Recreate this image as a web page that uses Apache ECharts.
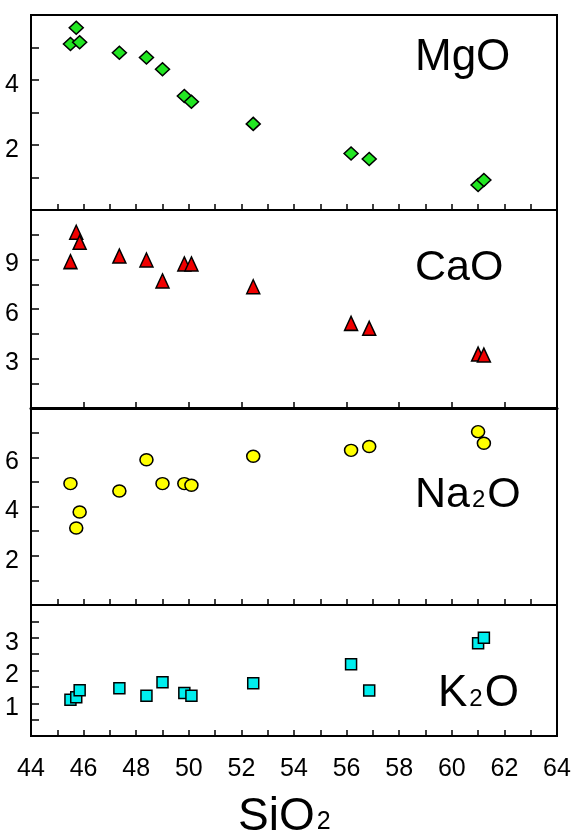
<!DOCTYPE html>
<html>
<head>
<meta charset="utf-8">
<script src="https://cdn.jsdelivr.net/npm/echarts@6/dist/echarts.min.js"></script>
<style>
  html, body { margin: 0; padding: 0; background: #fff; }
  #harker_chart { width: 571px; height: 834px; }
</style>
</head>
<body>
<div id="harker_chart"></div>
<script>
// Data (wt %)
// ------------------------------

var sio2 = [45.5, 45.72, 45.85, 47.36, 48.39, 49.0, 49.83, 50.1, 52.45, 56.17, 56.86, 61.0, 61.22];
var mgo  = [5.11, 5.61, 5.16, 4.84, 4.69, 4.33, 3.51, 3.33, 2.65, 1.74, 1.57, 0.77, 0.92];
var cao  = [8.87, 10.65, 10.04, 9.21, 8.97, 7.70, 8.73, 8.73, 7.35, 5.13, 4.83, 3.27, 3.21];
var na2o = [4.93, 3.13, 3.78, 4.63, 5.90, 4.93, 4.93, 4.86, 6.04, 6.28, 6.44, 7.04, 6.57];
var k2o  = [1.11, 1.18, 1.40, 1.46, 1.23, 1.64, 1.31, 1.23, 1.61, 2.19, 1.39, 2.83, 3.00];

var xTickLabels = [44, 46, 48, 50, 52, 54, 56, 58, 60, 62, 64];
var mgoTickLabels = [2, 4];
var caoTickLabels = [3, 6, 9];
var na2oTickLabels = [2, 4, 6];
var k2oTickLabels = [1, 2, 3];

// Setup module
// ------------------------------

var harkerChart = (function () {

  var pairs = function (ys) {
    return sio2.map(function (x, i) { return [x, ys[i]]; });
  };

  // show only the listed values, as rich text so they can be nudged
  var onlyLabels = function (list) {
    return function (v) {
      return list.indexOf(Math.round(v * 100) / 100) > -1 ? '{v|' + v + '}' : '';
    };
  };

  var font = 'Liberation Sans, Arial, sans-serif';

  // one panel = grid + x axis + y axis
  var grids = [
    { left: 31, right: 14, top: 15, height: 195 },
    { left: 31, right: 14, top: 210, height: 198 },
    { left: 31, right: 14, top: 408, height: 197 },
    { left: 31, right: 14, top: 605, height: 131 }
  ].map(function (g) {
    g.show = true;
    g.borderColor = '#000';
    g.borderWidth = 2;
    g.outerBoundsMode = 'none';
    g.containLabel = false;
    return g;
  });

  var xAxis = function (idx, interval, lineWidth, showLabels) {
    return {
      type: 'value',
      gridIndex: idx,
      min: 44,
      max: 64,
      interval: interval,
      splitLine: { show: false },
      axisLine: { show: true, onZero: false, lineStyle: { color: '#000', width: lineWidth } },
      axisTick: { show: true, inside: true, length: 6, lineStyle: { color: '#000', width: 1.5 } },
      axisLabel: {
        show: showLabels,
        margin: 21,
        color: '#000',
        fontFamily: font,
        fontSize: 25,
        formatter: onlyLabels(xTickLabels),
        rich: { v: { fontFamily: font, fontSize: 25, color: '#000' } }
      }
    };
  };

  var yAxis = function (idx, max, interval, labels) {
    return {
      type: 'value',
      gridIndex: idx,
      min: 0,
      max: max,
      interval: interval,
      splitLine: { show: false },
      axisLine: { show: true, onZero: false, lineStyle: { color: '#000', width: 2 } },
      axisTick: { show: true, inside: true, length: 8, lineStyle: { color: '#000', width: 1.5 } },
      axisLabel: {
        margin: 12,
        color: '#000',
        fontFamily: font,
        fontSize: 25,
        formatter: onlyLabels(labels),
        rich: { v: { fontFamily: font, fontSize: 25, color: '#000', padding: [10, 0, 0, 0] } }
      }
    };
  };

  var scatter = function (idx, ys, symbol, size, colour) {
    return {
      type: 'scatter',
      xAxisIndex: idx,
      yAxisIndex: idx,
      symbol: symbol,
      symbolSize: size,
      itemStyle: { color: colour, borderColor: '#000', borderWidth: 1.5, opacity: 1 },
      data: pairs(ys)
    };
  };

  var label = function (left, top, text, big) {
    return {
      left: left,
      top: top,
      padding: 0,
      text: text,
      textStyle: {
        fontWeight: 'normal',
        rich: {
          a: { fontFamily: font, fontSize: big, fontWeight: 'normal', color: '#000', verticalAlign: 'bottom', lineHeight: big },
          b: { fontFamily: font, fontSize: Math.round(big * 0.55), fontWeight: 'normal', color: '#000', verticalAlign: 'bottom', lineHeight: Math.round(big * 0.62), padding: [0, 2, 5, 2] }
        }
      }
    };
  };

  var harkerExample = function () {
    if (typeof echarts == 'undefined') {
      console.warn('Warning - echarts.min.js is not loaded.');
      return;
    }

    var harker_element = document.getElementById('harker_chart');
    if (!harker_element) return;

    var harker = echarts.init(harker_element, null, { renderer: 'canvas' });

    harker.setOption({
      animation: false,
      backgroundColor: '#fff',
      title: [
        label(415, 36, '{a|MgO}', 44),
        label(415, 247, '{a|CaO}', 43),
        label(415, 474, '{a|Na}{b|2}{a|O}', 43),
        label(438, 672, '{a|K}{b|2}{a|O}', 44),
        label(238, 794, '{a|SiO}{b|2}', 46)
      ],
      grid: grids,
      xAxis: [
        xAxis(0, 1, 2, false),
        xAxis(1, 2, 3, false),
        xAxis(2, 1, 2, false),
        xAxis(3, 1, 2, true)
      ],
      yAxis: [
        yAxis(0, 6, 1, mgoTickLabels),
        yAxis(1, 12, 1.5, caoTickLabels),
        yAxis(2, 8, 1, na2oTickLabels),
        yAxis(3, 4, 0.5, k2oTickLabels)
      ],
      series: [
        scatter(0, mgo, 'diamond', [14, 13], '#22e622'),
        scatter(1, cao, 'triangle', [13, 14], '#f00000'),
        scatter(2, na2o, 'circle', [13, 12], '#ffff00'),
        scatter(3, k2o, 'rect', [11, 11], '#00eeee')
      ]
    });

    window.addEventListener('resize', function () {
      harker.resize();
    });
  };

  return {
    init: function () {
      harkerExample();
    }
  };
})();

// Initialize module
// ------------------------------

document.addEventListener('DOMContentLoaded', function () {
  harkerChart.init();
});
</script>
</body>
</html>
